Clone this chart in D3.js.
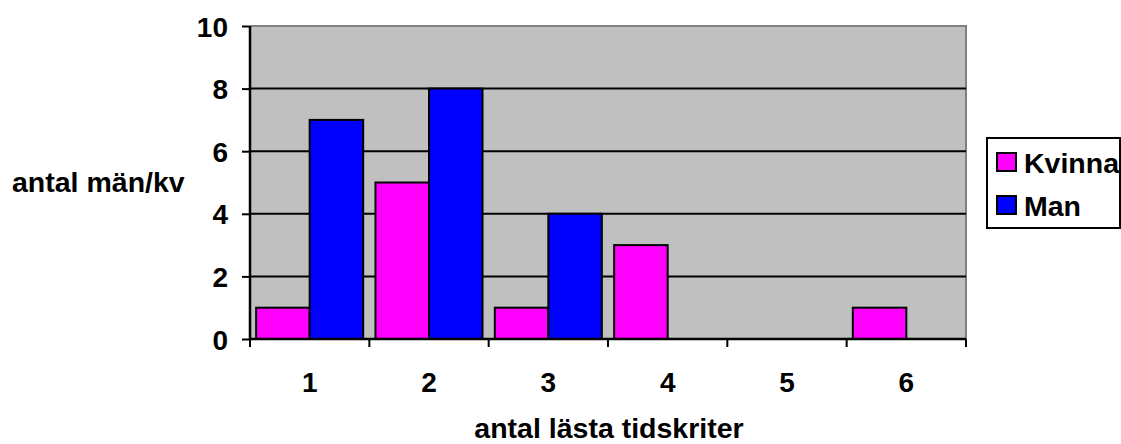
<!DOCTYPE html>
<html>
<head>
<meta charset="utf-8">
<script src="https://cdn.jsdelivr.net/npm/d3@7"></script>
<style>
  body { margin: 0; background: #fff; }
  text { font-family: "Liberation Sans", Arial, sans-serif; font-weight: bold; fill: #000; }
</style>
</head>
<body>
<div id="chart"></div>
<script>
// chart data
const categories = ["1", "2", "3", "4", "5", "6"];
const seriesNames = ["Kvinna", "Man"];
const kvinna = [1, 5, 1, 3, 0, 1];
const man = [7, 8, 4, 0, 0, 0];
const yTicks = [0, 2, 4, 6, 8, 10];
const colors = ["#FF00FF", "#0000FF"];

const W = 1121, H = 444;
const plot = {left: 250, right: 966, top: 26, bottom: 339};

const svg = d3.select("#chart")
    .append("svg")
    .attr("width", W)
    .attr("height", H);

const x0 = d3.scaleBand().domain(categories).range([plot.left, plot.right]).padding(0);
const x1 = d3.scaleBand().domain(seriesNames).range([0, x0.bandwidth()]).paddingInner(0).paddingOuter(0.115);
const y = d3.scaleLinear().domain([0, 10]).range([plot.bottom, plot.top]);

// plot background
svg.append("rect")
    .attr("x", plot.left).attr("y", plot.top)
    .attr("width", plot.right - plot.left).attr("height", plot.bottom - plot.top)
    .attr("fill", "#C0C0C0");

// gray border top & right
svg.append("path")
    .attr("d", `M${plot.left},${plot.top}H${plot.right}V${plot.bottom}`)
    .attr("fill", "none").attr("stroke", "#808080").attr("stroke-width", 2);

// gridlines
svg.append("g")
    .selectAll("line")
    .data(yTicks.filter(d => d > 0 && d < 10))
    .join("line")
    .attr("x1", plot.left).attr("x2", plot.right)
    .attr("y1", d => y(d)).attr("y2", d => y(d))
    .attr("stroke", "#000").attr("stroke-width", 2);

// bars
const rows = categories.map((c, i) => ({cat: c, vals: [kvinna[i], man[i]]}));
svg.append("g")
    .selectAll("g")
    .data(rows)
    .join("g")
    .attr("transform", d => `translate(${x0(d.cat)},0)`)
    .selectAll("rect")
    .data(d => d.vals.map((v, j) => ({name: seriesNames[j], v: v, c: colors[j]})).filter(d => d.v > 0))
    .join("rect")
    .attr("x", d => x1(d.name))
    .attr("width", x1.bandwidth())
    .attr("y", d => y(d.v))
    .attr("height", d => y(0) - y(d.v))
    .attr("fill", d => d.c)
    .attr("stroke", "#000").attr("stroke-width", 2);

// y axis
const yAxis = svg.append("g")
    .attr("transform", `translate(${plot.left},0)`)
    .call(d3.axisLeft(y).tickValues(yTicks).tickSize(8).tickPadding(14));
yAxis.select(".domain").attr("stroke", "#000").attr("stroke-width", 2.5)
    .attr("d", `M0,${plot.top}V${plot.bottom}`);
yAxis.selectAll(".tick line").attr("stroke", "#000").attr("stroke-width", 2);
yAxis.selectAll(".tick text").style("font-size", "28px").attr("dy", "0.36em");

// x axis
const xAxis = svg.append("g")
    .attr("transform", `translate(0,${plot.bottom})`)
    .call(d3.axisBottom(x0).tickSize(0).tickPadding(33));
xAxis.select(".domain").attr("stroke", "#000").attr("stroke-width", 2.5)
    .attr("d", `M${plot.left},0H${plot.right}`);
xAxis.selectAll(".tick text").style("font-size", "28px").attr("dy", "0.71em");
// tick marks at category boundaries
xAxis.append("g")
    .selectAll("line")
    .data(categories.concat(["end"]))
    .join("line")
    .attr("x1", (d, i) => plot.left + i * x0.step())
    .attr("x2", (d, i) => plot.left + i * x0.step())
    .attr("y1", 0).attr("y2", 8)
    .attr("stroke", "#000").attr("stroke-width", 2);

// axis titles
svg.append("text")
    .attr("x", 12).attr("y", 192)
    .style("font-size", "28.5px")
    .text("antal män/kv");

svg.append("text")
    .attr("x", 609).attr("y", 438)
    .attr("text-anchor", "middle")
    .style("font-size", "28.5px")
    .text("antal lästa tidskriter");

// legend
const legend = svg.append("g");
legend.append("rect")
    .attr("x", 987).attr("y", 138)
    .attr("width", 133).attr("height", 90)
    .attr("fill", "#fff").attr("stroke", "#000").attr("stroke-width", 2);

const items = legend.selectAll("g.item")
    .data(seriesNames)
    .join("g")
    .attr("class", "item")
    .attr("transform", (d, i) => `translate(997,${153 + i * 43})`);
items.append("rect")
    .attr("width", 19).attr("height", 18)
    .attr("fill", (d, i) => colors[i])
    .attr("stroke", "#000").attr("stroke-width", 2);
items.append("text")
    .attr("x", 27).attr("y", 20)
    .style("font-size", "28.5px")
    .text(d => d);
</script>
</body>
</html>
